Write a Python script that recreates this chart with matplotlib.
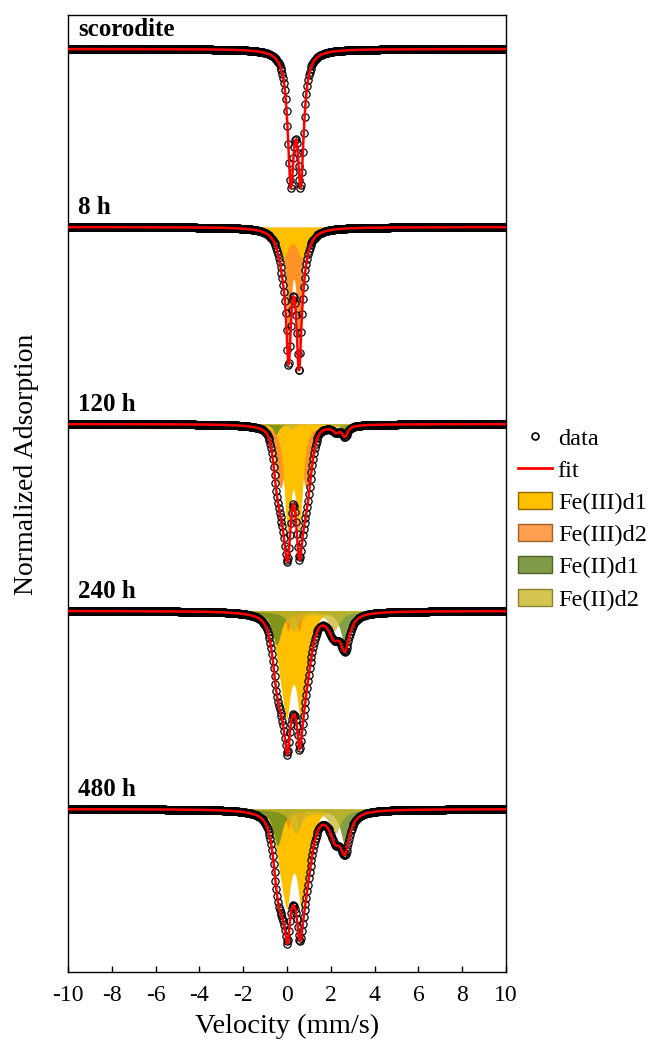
import matplotlib.pyplot as plt
import numpy as np
from matplotlib.lines import Line2D
from matplotlib.patches import Patch

plt.rcParams['font.family'] = ['Liberation Serif', 'DejaVu Serif']
plt.rcParams['axes.unicode_minus'] = False
plt.rcParams['path.simplify'] = False

# spectrometer velocity scale (mm/s) and number of channels
vel_min, vel_max = -10.0, 10.0
n_channels = 512

samples = ['scorodite', '8 h', '120 h', '240 h', '480 h']

# doublets: (IS, QS, FWHM, depth, lorentz fraction)
scorodite_fit = [(0.40, 0.45, 0.34, 0.885, 1.0)]

fe3_d1 = {
    '8 h': [(0.25, 0.84, 0.55, 0.20, 1.0)],
    '120 h': [(0.29, 0.52, 0.38, 0.71, 0.7)],
    '240 h': [(0.30, 0.85, 0.75, 0.52, 0.3), (0.30, 0.60, 0.30, 0.22, 1.0)],
    '480 h': [(0.32, 0.90, 0.75, 0.50, 0.3), (0.32, 0.62, 0.30, 0.20, 1.0)],
}
fe3_d2 = {
    '8 h': [(0.31, 0.47, 0.26, 0.79, 1.0)],
    '120 h': [(0.29, 1.18, 0.55, 0.45, 0.3)],
    '240 h': [(0.30, 0.50, 0.22, 0.14, 1.0)],
    '480 h': [(0.30, 0.50, 0.22, 0.13, 1.0)],
}
fe2_d1 = {
    '120 h': [(1.07, 3.15, 0.30, 0.075, 1.0)],
    '240 h': [(1.09, 3.12, 0.50, 0.24, 1.0)],
    '480 h': [(1.11, 3.08, 0.50, 0.26, 1.0)],
}
fe2_d2 = {
    '120 h': [(1.22, 2.05, 0.35, 0.04, 1.0)],
    '240 h': [(1.22, 1.85, 0.60, 0.14, 1.0)],
    '480 h': [(1.30, 1.80, 0.60, 0.17, 1.0)],
}

comp_names = ['Fe(III)d1', 'Fe(III)d2', 'Fe(II)d1', 'Fe(II)d2']
comp_params = [fe3_d1, fe3_d2, fe2_d1, fe2_d2]
comp_colors = ['#FFC000', '#FF8000', '#6B8E23', '#C8B82A']
comp_alpha = [1.0, 0.85, 0.85, 0.75]
legend_colors = ['#FFC000', '#FFA050', '#809A4A', '#D4C452']
legend_edges = ['#8C6A00', '#A0602A', '#4E6428', '#8C8230']

# layout: baseline of each spectrum (axis units, 1 = full dip) and fill stacking order
offsets = [6.593, 5.321, 3.914, 2.579, 1.164]
draw_order = {'8 h': [1, 0], '120 h': [1, 0, 2, 3],
              '240 h': [0, 1, 2, 3], '480 h': [0, 1, 2, 3]}


def doublet(v, params):
    out = np.zeros_like(v)
    for IS, QS, w, A, eta in params:
        for c in (IS - QS / 2, IS + QS / 2):
            x = (v - c) / w
            out += A * (eta / (1 + 4 * x ** 2) + (1 - eta) * np.exp(-4 * np.log(2) * x ** 2))
    return out


v = np.linspace(vel_min, vel_max, n_channels)

fig = plt.figure(figsize=(6.52, 10.48), dpi=100)
ax = fig.add_axes([0.1043, 0.0725, 0.6718, 0.9132])

for i, s in enumerate(samples):
    base = offsets[i]
    if s == 'scorodite':
        total = doublet(v, scorodite_fit)
    else:
        total = np.zeros_like(v)
        for k, j in enumerate(draw_order[s]):
            curve = doublet(v, comp_params[j][s])
            total += curve
            ax.fill_between(v, base, base - curve, color=comp_colors[j],
                            alpha=comp_alpha[j], lw=0, zorder=1 + 0.1 * k)
    pts, = ax.plot(v, base - total, 'o', mfc='none', mec='black', ms=5.2, mew=0.9, zorder=3)
    pts.set_snap(False)
    ax.plot(v, base - total, color='red', lw=1.8, zorder=4)
    ax.text(-9.54, base + 0.09, s, fontsize=18, fontweight='bold',
            va='baseline', ha='left')

ax.set_xlim(-10, 10)
ax.set_ylim(0, 6.836)
ax.set_xticks(np.arange(-10, 11, 2))
ax.set_yticks([])
ax.tick_params(axis='x', direction='in', length=4, width=1, labelsize=17, pad=9)
for sp in ax.spines.values():
    sp.set_linewidth(1.0)
ax.set_xlabel('Velocity (mm/s)', fontsize=20.5, labelpad=6)
ax.set_ylabel('Normalized Adsorption', fontsize=20)
ax.yaxis.set_label_coords(-0.066, 0.53)

handles = [Line2D([], [], ls='none', marker='o', mfc='none', mec='black', ms=5, mew=1.2),
           Line2D([], [], color='red', lw=2)]
for fc, ec in zip(legend_colors, legend_edges):
    handles.append(Patch(facecolor=fc, edgecolor=ec, lw=1))
labels = ['data', 'fit'] + comp_names
fig.legend(handles, labels, loc='upper left', bbox_to_anchor=(0.794, 0.592),
           frameon=False, fontsize=17.5, handlelength=1.4, handletextpad=0.25,
           labelspacing=0.42, borderpad=0, borderaxespad=0)

fig.savefig('out.png', dpi=100)
